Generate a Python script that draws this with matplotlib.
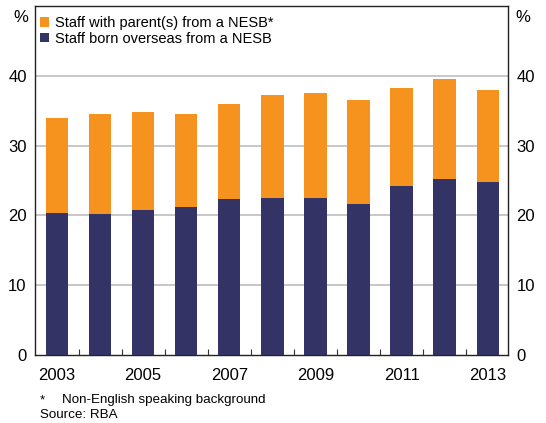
import matplotlib
matplotlib.use("Agg")
import matplotlib.pyplot as plt
from matplotlib.ticker import FixedLocator, NullFormatter

plt.rcParams['font.family'] = ['Liberation Sans', 'DejaVu Sans']

# data
years = [2003, 2004, 2005, 2006, 2007, 2008, 2009, 2010, 2011, 2012, 2013]
born_overseas = [20.3, 20.2, 20.8, 21.2, 22.3, 22.5, 22.5, 21.6, 24.2, 25.2, 24.8]
total = [33.9, 34.5, 34.8, 34.5, 36.0, 37.2, 37.5, 36.6, 38.2, 39.5, 38.0]
parents_nesb = [t - b for t, b in zip(total, born_overseas)]

year_labels = ['2003', '2005', '2007', '2009', '2011', '2013']
y_ticks = [0, 10, 20, 30, 40]

ORANGE = '#F6921E'
NAVY = '#333366'

fig = plt.figure(figsize=(5.46, 4.23), dpi=100)
ax = fig.add_axes([35 / 546, 68 / 423, 473 / 546, 349 / 423])

ax.bar(years, born_overseas, width=0.52, color=NAVY, zorder=3,
       label='Staff born overseas from a NESB')
ax.bar(years, parents_nesb, width=0.52, bottom=born_overseas, color=ORANGE,
       zorder=3, label='Staff with parent(s) from a NESB*')

ax.set_xlim(2002.49, 2013.47)
ax.set_ylim(0, 50)

# grid at the ticks, only up to 40
for v in y_ticks[1:]:
    ax.axhline(v, color='#BEBEC2', linewidth=1.2, zorder=1)

ax.set_yticks(y_ticks)
ax.tick_params(axis='y', which='both', length=0, labelsize=12,
               left=False, right=False, labelleft=True, labelright=True, pad=6)

# x labels at year centres, tick marks between bars
ax.xaxis.set_major_locator(FixedLocator([int(y) for y in year_labels]))
ax.set_xticklabels(year_labels)
ax.xaxis.set_minor_locator(FixedLocator([y + 0.5 for y in years[:-1]]))
ax.xaxis.set_minor_formatter(NullFormatter())
ax.tick_params(axis='x', which='major', length=0, labelsize=12, pad=9)
ax.tick_params(axis='x', which='minor', direction='in', length=4,
               width=0.8, color='#333333')

for s in ax.spines.values():
    s.set_linewidth(1.0)
    s.set_color('#222222')

fig.text(21 / 546, 1 - 17 / 423, '%', fontsize=12, ha='center', va='center')
fig.text(523 / 546, 1 - 17 / 423, '%', fontsize=12, ha='center', va='center')

handles, labels = ax.get_legend_handles_labels()
leg = ax.legend(handles[::-1], labels[::-1], loc='upper left',
                bbox_to_anchor=(-0.008, 0.997), frameon=False, fontsize=10.5,
                handlelength=0.65, handleheight=0.65, handletextpad=0.35,
                labelspacing=0.12, borderaxespad=0.2)

fig.text(40 / 546, 1 - 400 / 423, '*', fontsize=9.6, va='center')
fig.text(62 / 546, 1 - 400 / 423, 'Non-English speaking background',
         fontsize=9.6, va='center')
fig.text(40 / 546, 1 - 415 / 423, 'Source: RBA', fontsize=9.6, va='center')

fig.savefig('out.png', dpi=100)
